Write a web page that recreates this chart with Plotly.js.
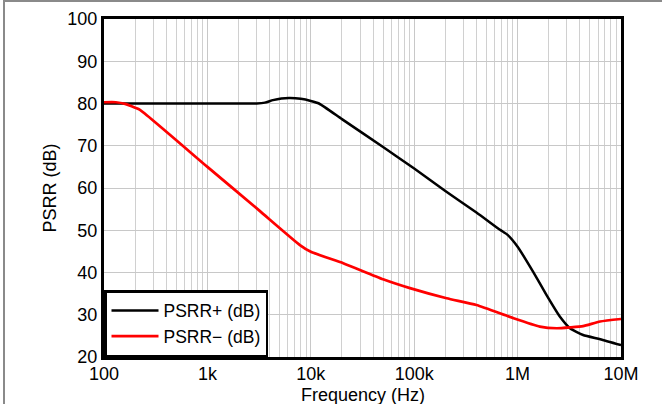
<!DOCTYPE html>
<html>
<head>
<meta charset="utf-8">
<script src="https://cdn.plot.ly/plotly-3.0.1.min.js"></script>
<style>
  html, body { margin: 0; padding: 0; background: #fff; }
  #wrap { position: relative; width: 662px; height: 404px; overflow: hidden; }
  #chart { width: 662px; height: 404px; }
  #frame { position: absolute; left: 3px; top: 0px; width: 700px; height: 500px;
           border-top: 2px solid #8a8a8a; border-left: 2px solid #8a8a8a; pointer-events: none; }
</style>
</head>
<body>
<div id="wrap">
  <div id="chart"></div>
  <div id="frame"></div>
</div>
<script>
// Frequency (Hz) and PSRR (dB)
const freqPlus = [100, 1000, 3000, 3600, 4300, 5200, 6300, 8000, 10000, 12000, 20000, 50000, 100000, 200000, 400000, 676000, 800000, 1000000, 1410000, 1900000, 2570000, 3210000, 4300000, 6300000, 10000000];
const psrrPlus = [80, 80, 80, 80.2, 80.8, 81.2, 81.3, 81.1, 80.6, 80.0, 76.3, 69.7, 64.6, 59.3, 54.2, 50.1, 48.9, 46.1, 40.2, 34.7, 29.5, 26.8, 25.2, 24.2, 22.8];

const freqMinus = [100, 130, 160, 200, 223, 1000, 3162, 7850, 10000, 20600, 50000, 91000, 206000, 400000, 908000, 1640000, 2390000, 3210000, 4300000, 6270000, 10000000];
const psrrMinus = [80.3, 80.3, 79.9, 79.0, 78.5, 65.0, 54.7, 46.5, 44.9, 42.2, 38.4, 36.3, 33.9, 32.3, 29.2, 27.2, 26.8, 27.0, 27.3, 28.4, 29.0];

const xTickVals = [100, 1000, 10000, 100000, 1000000, 10000000];
const xTickText = ['100', '1k', '10k', '100k', '1M', '10M'];

const seriesNames = ['PSRR+ (dB)', 'PSRR\u2212 (dB)'];
const xTitle = 'Frequency (Hz)';
const yTitle = 'PSRR (dB)';

const fontFam = 'Liberation Sans, Arial, sans-serif';

const traces = [
  { x: freqPlus, y: psrrPlus, name: seriesNames[0], type: 'scatter', mode: 'lines',
    line: { color: '#000000', width: 2.5, shape: 'spline', smoothing: 0.5 } },
  { x: freqMinus, y: psrrMinus, name: seriesNames[1], type: 'scatter', mode: 'lines',
    line: { color: '#ff0000', width: 2.7, shape: 'spline', smoothing: 0.5 } }
];

const layout = {
  width: 662, height: 404,
  margin: { l: 104, r: 41, t: 19, b: 47 },
  paper_bgcolor: '#ffffff', plot_bgcolor: '#ffffff',
  font: { family: fontFam, size: 18, color: '#000' },
  showlegend: true,
  legend: {
    x: 0, y: 0, xanchor: 'left', yanchor: 'bottom',
    bgcolor: '#ffffff', bordercolor: '#000000', borderwidth: 2.5,
    font: { family: fontFam, size: 17.5, color: '#000' },
    itemwidth: 47,
    tracegroupgap: 0
  },
  xaxis: {
    type: 'log', range: [2, 7],
    tickmode: 'array', tickvals: xTickVals, ticktext: xTickText,
    showgrid: true, gridcolor: '#c8c8c8', gridwidth: 1,
    minor: { dtick: 'D1', showgrid: true, gridcolor: '#d0d0d0', gridwidth: 1, ticks: '' },
    showline: true, linecolor: '#000', linewidth: 3, mirror: true,
    ticks: '', ticklen: 0, zeroline: false,
    ticklabelstandoff: -2,
    tickfont: { family: fontFam, size: 18, color: '#000' }
  },
  yaxis: {
    range: [20, 100], dtick: 10,
    showgrid: true, gridcolor: '#c8c8c8', gridwidth: 1,
    showline: true, linecolor: '#000', linewidth: 3, mirror: true,
    ticks: '', zeroline: false,
    tickfont: { family: fontFam, size: 18, color: '#000' },
    title: { text: yTitle, font: { family: fontFam, size: 18, color: '#000' } }
  },
  annotations: [
    { text: xTitle, xref: 'paper', yref: 'paper', x: 0.5, y: -0.113,
      xanchor: 'center', yanchor: 'middle', showarrow: false,
      font: { family: fontFam, size: 18, color: '#000' } }
  ]
};

Plotly.newPlot('chart', traces, layout, { displayModeBar: false, staticPlot: true });
</script>
</body>
</html>
